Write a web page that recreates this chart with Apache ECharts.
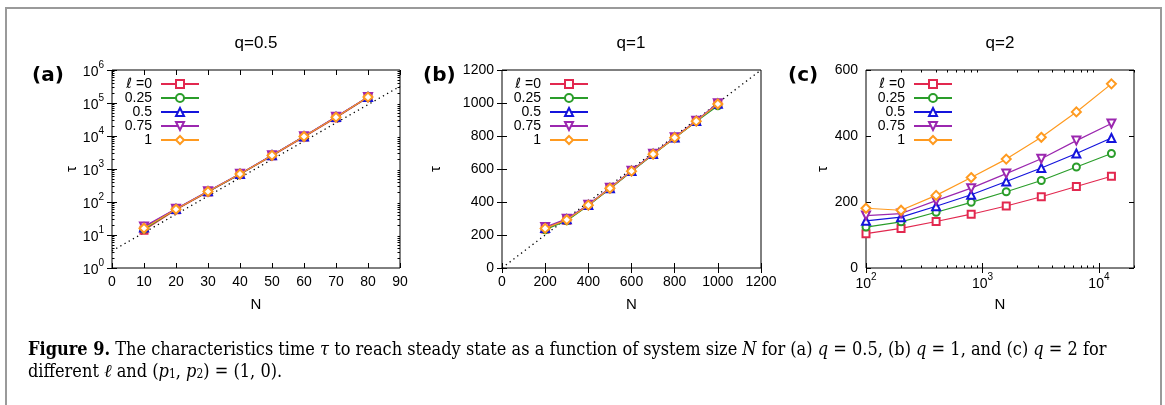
<!DOCTYPE html>
<html><head><meta charset="utf-8">
<script src="https://cdn.jsdelivr.net/npm/echarts@6/dist/echarts.min.js"></script>
<style>html,body{margin:0;padding:0;background:#fff}#c{width:1165px;height:405px}</style>
</head><body><div id="c"></div>
<script>
// ---------- data ----------
const ELL = ['0', '0.25', '0.5', '0.75', '1'];

// panel (a) q=0.5
const N_A = [10, 20, 30, 40, 50, 60, 70, 80];
const TAU_A_0    = [14, 58, 200, 690, 2500, 9400, 36000, 148000];
const TAU_A_025  = [15, 60, 205, 700, 2550, 9600, 37000, 150000];
const TAU_A_05   = [17, 61, 210, 710, 2600, 9700, 37500, 152000];
const TAU_A_075  = [18, 62, 212, 715, 2620, 9800, 38000, 153000];
const TAU_A_1    = [16, 60, 208, 705, 2580, 9650, 37200, 151000];
const FIT_A_N = [0, 90];
const FIT_A_TAU = [3.3, 320000];

// panel (b) q=1
const N_B = [200, 300, 400, 500, 600, 700, 800, 900, 1000];
const TAU_B_0    = [236, 290, 380, 482, 586, 690, 790, 890, 997];
const TAU_B_025  = [232, 286, 378, 480, 584, 688, 788, 888, 983];
const TAU_B_05   = [242, 295, 382, 484, 588, 691, 791, 891, 995];
const TAU_B_075  = [248, 298, 384, 486, 590, 692, 792, 892, 998];
const TAU_B_1    = [240, 292, 381, 483, 587, 690, 790, 890, 994];
const FIT_B_N = [0, 1200];
const FIT_B_TAU = [0, 1200];

// panel (c) q=2
const N_C = [100, 200, 400, 800, 1600, 3200, 6400, 12800];
const TAU_C_0    = [104, 120, 141, 163, 188, 216, 247, 278];
const TAU_C_025  = [124, 140, 169, 199, 231, 265, 306, 347];
const TAU_C_05   = [143, 154, 187, 222, 262, 303, 347, 394];
const TAU_C_075  = [159, 165, 204, 242, 286, 331, 386, 438];
const TAU_C_1    = [181, 175, 220, 274, 330, 396, 473, 558];

// tick labels
const A_Y_MAJOR = [1, 10, 100, 1000, 10000, 100000, 1000000];
const C_X_MAJOR = [100, 1000, 10000];
function minorLog(lo, hi) {
  const out = [];
  for (let d = lo; d < hi; d *= 10) for (let m = 2; m <= 9; m++) out.push(m * d);
  return out;
}
const A_Y_MINOR = minorLog(1, 1000000);
const C_X_MINOR = minorLog(100, 10000).concat([20000]);

// ---------- styles ----------
const STY = [
  { color: '#e2284f', symbol: 'emptyRect', size: 7, rot: 0 },
  { color: '#2a9d2a', symbol: 'emptyCircle', size: 7, rot: 0 },
  { color: '#1414dc', symbol: 'emptyTriangle', size: 8, rot: 0 },
  { color: '#9b27af', symbol: 'emptyTriangle', size: 8, rot: 180 },
  { color: '#ff9a1f', symbol: 'emptyDiamond', size: 9, rot: 0 }
];
const FONT = 'Liberation Sans';
const FS = 14;

function mkSeries(xs, ys, i, xi, yi) {
  const s = STY[i];
  return {
    type: 'line', name: ELL[i], xAxisIndex: xi, yAxisIndex: yi,
    data: xs.map((x, k) => [x, ys[k]]),
    symbol: s.symbol, symbolSize: s.size, symbolRotate: s.rot,
    lineStyle: { width: 1.2, color: s.color },
    itemStyle: { color: s.color, borderWidth: 1.2 },
    z: 3 + i, animation: false, silent: true
  };
}
function mkFit(xs, ys, xi, yi) {
  return {
    type: 'line', name: 'fit', xAxisIndex: xi, yAxisIndex: yi,
    data: xs.map((x, k) => [x, ys[k]]), symbol: 'none',
    lineStyle: { width: 1.3, color: '#000', type: [1.3, 3.5] },
    z: 2, animation: false, silent: true
  };
}
function tick(len, custom) {
  const t = { show: true, inside: true, length: len, lineStyle: { color: '#000', width: 1 } };
  if (custom) t.customValues = custom;
  return t;
}
const pow10 = v => '{m|10}{s|' + Math.round(Math.log10(v)) + '}';
const powRich = {
  m: { fontSize: FS, fontFamily: FONT, color: '#000', lineHeight: 19, verticalAlign: 'bottom' },
  s: { fontSize: 10, fontFamily: FONT, color: '#000', lineHeight: 11, verticalAlign: 'top' }
};
const off = { show: false };
function ax(base) {
  return Object.assign({ axisLine: off, splitLine: off, splitArea: off }, base);
}
const nameX = { name: 'N', nameLocation: 'middle', nameGap: 29, nameTextStyle: { fontSize: 15, color: '#000', fontFamily: FONT } };
function nameY(gap) {
  return { name: 'τ', nameLocation: 'middle', nameGap: gap, nameRotate: 90, nameTextStyle: { fontSize: 15, color: '#000', fontFamily: FONT } };
}

const grids = [
  { left: 112, top: 70, width: 288, height: 198 },
  { left: 502, top: 70, width: 259, height: 198 },
  { left: 866, top: 70, width: 268, height: 198 }
].map(g => Object.assign({ show: true, borderColor: '#000', borderWidth: 1, backgroundColor: 'transparent', containLabel: false, outerBoundsMode: 'none' }, g));

const plain = v => String(v);
const lab = (extra) => Object.assign({ fontSize: FS, color: '#000', fontFamily: FONT, formatter: plain }, extra || {});

const xAxis = [
  // a
  ax(Object.assign({ gridIndex: 0, type: 'value', position: 'bottom', min: 0, max: 90, interval: 10, axisTick: tick(5), axisLabel: lab({ margin: 7 }) }, nameX)),
  ax({ gridIndex: 0, type: 'value', position: 'top', min: 0, max: 90, interval: 10, axisTick: tick(5), axisLabel: off }),
  // b
  ax(Object.assign({ gridIndex: 1, type: 'value', position: 'bottom', min: 0, max: 1200, interval: 200, axisTick: tick(5), axisLabel: lab({ margin: 7 }) }, nameX)),
  ax({ gridIndex: 1, type: 'value', position: 'top', min: 0, max: 1200, interval: 200, axisTick: tick(5), axisLabel: off }),
  // c
  ax(Object.assign({ gridIndex: 2, type: 'log', logBase: 10, position: 'bottom', min: 100, max: 20000, axisTick: tick(5, C_X_MAJOR),
     axisLabel: { customValues: C_X_MAJOR, formatter: pow10, rich: powRich, margin: 4 } }, nameX)),
  ax({ gridIndex: 2, type: 'log', logBase: 10, position: 'top', min: 100, max: 20000, axisTick: tick(5, C_X_MAJOR), axisLabel: off }),
  ax({ gridIndex: 2, type: 'log', logBase: 10, position: 'bottom', min: 100, max: 20000, axisTick: tick(2.5, C_X_MINOR), axisLabel: off }),
  ax({ gridIndex: 2, type: 'log', logBase: 10, position: 'top', min: 100, max: 20000, axisTick: tick(2.5, C_X_MINOR), axisLabel: off })
];
const yAxis = [
  // a
  ax(Object.assign({ gridIndex: 0, type: 'log', logBase: 10, position: 'left', min: 1, max: 1000000, axisTick: tick(5, A_Y_MAJOR),
     axisLabel: { customValues: A_Y_MAJOR, formatter: pow10, rich: powRich, margin: 8 } }, nameY(31))),
  ax({ gridIndex: 0, type: 'log', logBase: 10, position: 'right', min: 1, max: 1000000, axisTick: tick(5, A_Y_MAJOR), axisLabel: off }),
  ax({ gridIndex: 0, type: 'log', logBase: 10, position: 'left', min: 1, max: 1000000, axisTick: tick(2.5, A_Y_MINOR), axisLabel: off }),
  ax({ gridIndex: 0, type: 'log', logBase: 10, position: 'right', min: 1, max: 1000000, axisTick: tick(2.5, A_Y_MINOR), axisLabel: off }),
  // b
  ax(Object.assign({ gridIndex: 1, type: 'value', position: 'left', min: 0, max: 1200, interval: 200, axisTick: tick(5), axisLabel: lab({ margin: 8 }) }, nameY(59))),
  ax({ gridIndex: 1, type: 'value', position: 'right', min: 0, max: 1200, interval: 200, axisTick: tick(5), axisLabel: off }),
  // c
  ax(Object.assign({ gridIndex: 2, type: 'value', position: 'left', min: 0, max: 600, interval: 200, axisTick: tick(5), axisLabel: lab({ margin: 8 }) }, nameY(33))),
  ax({ gridIndex: 2, type: 'value', position: 'right', min: 0, max: 600, interval: 200, axisTick: tick(5), axisLabel: off })
];

const series = [
  mkFit(FIT_A_N, FIT_A_TAU, 0, 0),
  mkSeries(N_A, TAU_A_0, 0, 0, 0), mkSeries(N_A, TAU_A_025, 1, 0, 0), mkSeries(N_A, TAU_A_05, 2, 0, 0),
  mkSeries(N_A, TAU_A_075, 3, 0, 0), mkSeries(N_A, TAU_A_1, 4, 0, 0),
  mkFit(FIT_B_N, FIT_B_TAU, 2, 4),
  mkSeries(N_B, TAU_B_0, 0, 2, 4), mkSeries(N_B, TAU_B_025, 1, 2, 4), mkSeries(N_B, TAU_B_05, 2, 2, 4),
  mkSeries(N_B, TAU_B_075, 3, 2, 4), mkSeries(N_B, TAU_B_1, 4, 2, 4),
  mkSeries(N_C, TAU_C_0, 0, 4, 6), mkSeries(N_C, TAU_C_025, 1, 4, 6), mkSeries(N_C, TAU_C_05, 2, 4, 6),
  mkSeries(N_C, TAU_C_075, 3, 4, 6), mkSeries(N_C, TAU_C_1, 4, 4, 6)
];

const legRich = {
  e: { fontSize: 14, fontFamily: 'DejaVu Sans', fontStyle: 'italic', color: '#000' },
  t: { fontSize: 14, fontFamily: FONT, color: '#000', padding: [0, 4, 0, 0] }
};
function mkLegend(right) {
  return {
    orient: 'vertical', align: 'right', right: right, top: 77, itemGap: 0, itemWidth: 38, itemHeight: 10,
    padding: 0, data: ELL, selectedMode: false,
    formatter: n => n === '0' ? '{e|ℓ}{t| =0}' : '{t|' + n + '}',
    textStyle: { fontSize: 14, color: '#000', fontFamily: FONT, rich: legRich, lineHeight: 14 }
  };
}

function txt(x, y, text, font, align) {
  return { type: 'text', x: x, y: y, silent: true,
    style: { text: text, font: font, fill: '#000', align: align || 'center', verticalAlign: 'middle' } };
}
const SERIF = '"DejaVu Serif Condensed", "DejaVu Serif"';
const CFS = 18;
function rs(size, weight, style) { return { fontSize: size, fontWeight: weight || 'normal', fontStyle: style || 'normal', fontFamily: SERIF, fill: '#000' }; }
const capRich = {
  n: rs(CFS), b: rs(CFS, 'bold'), i: rs(CFS, 'normal', 'italic'),
  sub: Object.assign(rs(12, 'normal', 'normal'), { verticalAlign: 'bottom', lineHeight: 15 })
};
const CAP1 = '{b|Figure 9.}{n| The characteristics time }{i|τ}{n| to reach steady state as a function of system size }{i|N}{n| for (a) }{i|q}{n| = 0.5, (b) }{i|q}{n| = 1, and (c) }{i|q}{n| = 2 for}';
const CAP2 = '{n|different }{i|ℓ}{n| and (}{i|p}{sub|1}{n|, }{i|p}{sub|2}{n|) = (1, 0).}';

const TFONT = '17px "Liberation Sans"';
const PFONT = 'bold 20px "DejaVu Sans"';
const graphic = [
  { type: 'rect', silent: true, shape: { x: 6, y: 8, width: 1155, height: 420 }, style: { fill: 'none', stroke: '#9a9a9a', lineWidth: 2 } },
  txt(256, 43, 'q=0.5', TFONT),
  txt(631, 43, 'q=1', TFONT),
  txt(1000, 43, 'q=2', TFONT),
  txt(32, 76, '(a)', PFONT, 'left'),
  txt(423, 76, '(b)', PFONT, 'left'),
  txt(788, 76, '(c)', PFONT, 'left'),
  { type: 'text', x: 28, y: 350, silent: true, style: { text: CAP1, rich: capRich, font: CFS + 'px ' + SERIF, fill: '#000', align: 'left', verticalAlign: 'middle' } },
  { type: 'text', x: 28, y: 372, silent: true, style: { text: CAP2, rich: capRich, font: CFS + 'px ' + SERIF, fill: '#000', align: 'left', verticalAlign: 'middle' } }
];

const chart = echarts.init(document.getElementById('c'), null, { renderer: 'canvas' });
chart.setOption({
  animation: false,
  backgroundColor: '#fff',
  textStyle: { fontFamily: FONT },
  grid: grids, xAxis: xAxis, yAxis: yAxis, series: series,
  legend: [mkLegend(965), mkLegend(576), mkLegend(212)],
  graphic: graphic
});
</script></body></html>
